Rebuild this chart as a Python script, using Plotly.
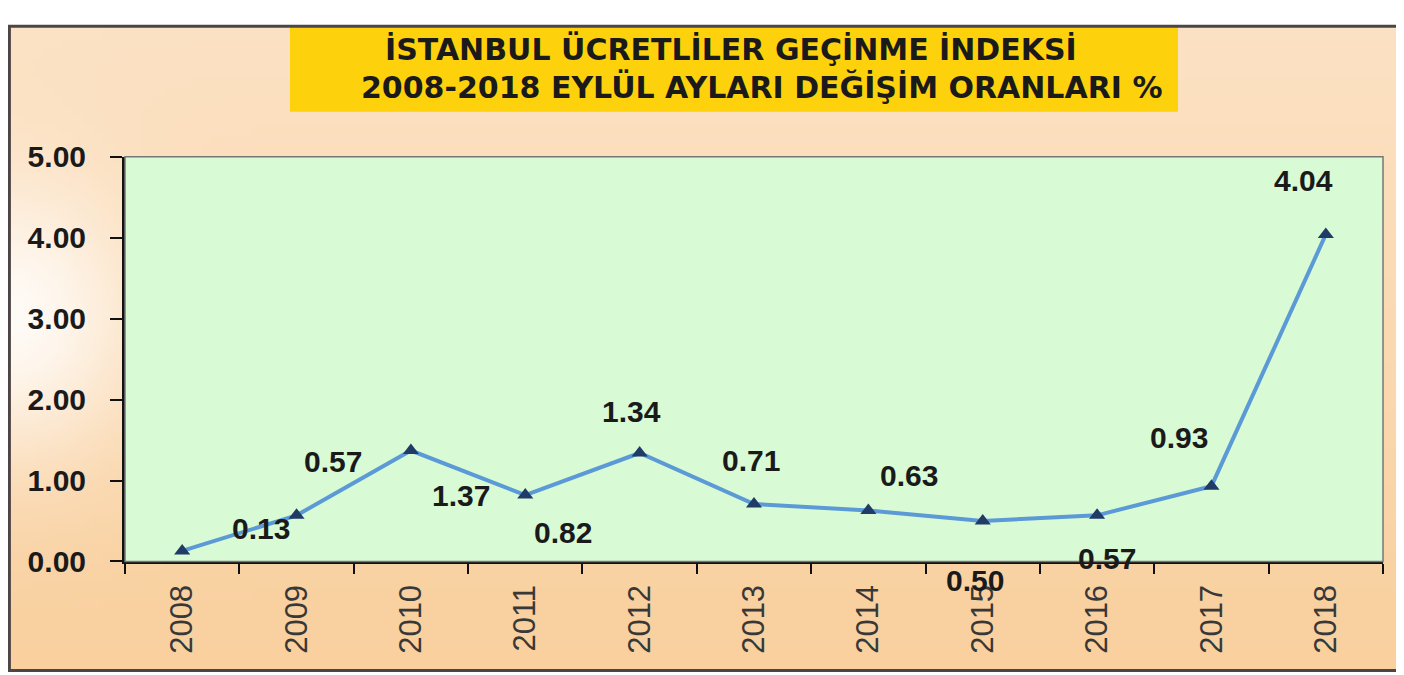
import base64
import struct
import zlib

import numpy as np
import plotly.graph_objects as go

# data
years = ['2008', '2009', '2010', '2011', '2012', '2013', '2014', '2015', '2016', '2017', '2018']
rates = [0.13, 0.57, 1.37, 0.82, 1.34, 0.71, 0.63, 0.50, 0.57, 0.93, 4.04]
y_ticks = [0, 1, 2, 3, 4, 5]

title_1 = 'İSTANBUL ÜCRETLİLER GEÇİNME İNDEKSİ'
title_2 = '2008-2018 EYLÜL AYLARI DEĞİŞİM ORANLARI %'

# label offsets (px) - the labels sit off their points in the original
label_dx = [79, 36, 50, 38, -8, -3, 41, -8, 10, -32, -22]
label_dy = [21, 51, -43, -36, 39, 41, 33, -57, -41, 46, 51]

# how the page ends up in the snapshot: x shifted by body margin,
# y squeezed a bit and pushed down
OX = 8
SY, OY = 0.951, 23.2
W = 1404 - OX
H = round((675 - OY) / SY) + 1
PL, PR, PT, PB = 125, 1383, 155, 560  # plot area, picture px


def px_x(v):
    return min(max((v - OX) / W, 0), 1)


def px_y(v):
    return min(max(1 - (v - OY) / SY / H, 0), 1)


def png_uri(arr):
    h, w, _ = arr.shape
    raw = b''.join(b'\x00' + arr[i].tobytes() for i in range(h))

    def chunk(tag, data):
        c = struct.pack('>I', len(data)) + tag + data
        return c + struct.pack('>I', zlib.crc32(tag + data) & 0xffffffff)

    png = b'\x89PNG\r\n\x1a\n'
    png += chunk(b'IHDR', struct.pack('>IIBBBBB', w, h, 8, 2, 0, 0, 0))
    png += chunk(b'IDAT', zlib.compress(raw, 9))
    png += chunk(b'IEND', b'')
    return 'data:image/png;base64,' + base64.b64encode(png).decode()


# peach background with the whitish glow on the left
gw, gh = 140, 68
gx, gy = np.meshgrid(np.linspace(0, 1, gw), np.linspace(0, 1, gh))
top = np.array([252, 226, 196], float)
bot = np.array([249, 208, 158], float)
white = np.array([255, 251, 246], float)
base = top[None, None, :] * (1 - gy[..., None]) + bot[None, None, :] * gy[..., None]
glow = np.exp(-((gx / 0.09) ** 2 + ((gy - 0.45) / 0.22) ** 2))[..., None]
bg = (base * (1 - glow) + white * glow).clip(0, 255).astype(np.uint8)

fig = go.Figure()

fig.add_trace(go.Scatter(
    x=years,
    y=rates,
    mode='lines+markers',
    line=dict(color='#5b9ad6', width=4),
    marker=dict(symbol='triangle-up', size=14, color='#1f3b66'),
    hoverinfo='x+y',
    showlegend=False,
))

annotations = []
for i in range(len(years)):
    # category axis: annotation x is the category's serial number
    annotations.append(dict(
        x=i, y=rates[i], xref='x', yref='y',
        text='%.2f' % rates[i], showarrow=False,
        xanchor='center', yanchor='middle',
        xshift=label_dx[i], yshift=label_dy[i] / SY,
        font=dict(family='Liberation Sans', size=30, color='#1a1a1a', weight='bold'),
    ))

annotations.append(dict(
    x=px_x(731), y=px_y(47), xref='paper', yref='paper',
    text=title_1, showarrow=False, xanchor='center', yanchor='middle',
    font=dict(family='DejaVu Sans', size=30, color='#1a1a1a', weight='bold'),
))
annotations.append(dict(
    x=px_x(761), y=px_y(85), xref='paper', yref='paper',
    text=title_2, showarrow=False, xanchor='center', yanchor='middle',
    font=dict(family='DejaVu Sans', size=30, color='#1a1a1a', weight='bold'),
))

shapes = [
    # yellow title box
    dict(type='rect', xref='paper', yref='paper',
         x0=px_x(290), x1=px_x(1178), y0=px_y(110), y1=px_y(18),
         fillcolor='#fdd20c', line=dict(width=0), layer='below'),
    # green plot area (drawn over the background image)
    dict(type='rect', xref='x domain', yref='y domain', x0=0, x1=1, y0=0, y1=1,
         fillcolor='#d8fbd5', line=dict(width=0), layer='below'),
    # thin border around plot area
    dict(type='rect', xref='x domain', yref='y domain', x0=0, x1=1, y0=0, y1=1,
         line=dict(color='#777777', width=1.5)),
    # outer frame
    dict(type='rect', xref='paper', yref='paper',
         x0=0.001, x1=px_x(1398), y0=px_y(669), y1=0.998,
         line=dict(color='#4d4545', width=3)),
]

fig.update_layout(
    width=W,
    height=H,
    margin=dict(l=0, r=0, t=0, b=0),
    paper_bgcolor='white',
    plot_bgcolor='#d8fbd5',
    showlegend=False,
    annotations=annotations,
    shapes=shapes,
    images=[dict(
        source=png_uri(bg), xref='paper', yref='paper',
        x=0, y=1, sizex=px_x(1398), sizey=1 - px_y(669),
        xanchor='left', yanchor='top', sizing='stretch', layer='below',
    )],
    xaxis=dict(
        domain=[px_x(PL), px_x(PR)],
        type='category',
        range=[-0.5, len(years) - 0.5],
        tickangle=-90,
        tickson='boundaries',
        ticks='outside', ticklen=10, tickwidth=2, tickcolor='#111111',
        showline=True, linecolor='#111111', linewidth=3,
        showgrid=False, zeroline=False,
        tickfont=dict(family='Liberation Sans', size=31, color='#383838'),
        ticklabelstandoff=8,
    ),
    yaxis=dict(
        domain=[px_y(PB), px_y(PT)],
        range=[0, 5],
        tickvals=y_ticks,
        tickformat='.2f',
        ticks='outside', ticklen=12, tickwidth=2, tickcolor='#111111',
        showline=True, linecolor='#111111', linewidth=3,
        showgrid=False, zeroline=False,
        tickfont=dict(family='Liberation Sans', size=30, color='#1a1a1a', weight='bold'),
        ticklabelstandoff=18,
    ),
)

fig.write_html('out.html')
